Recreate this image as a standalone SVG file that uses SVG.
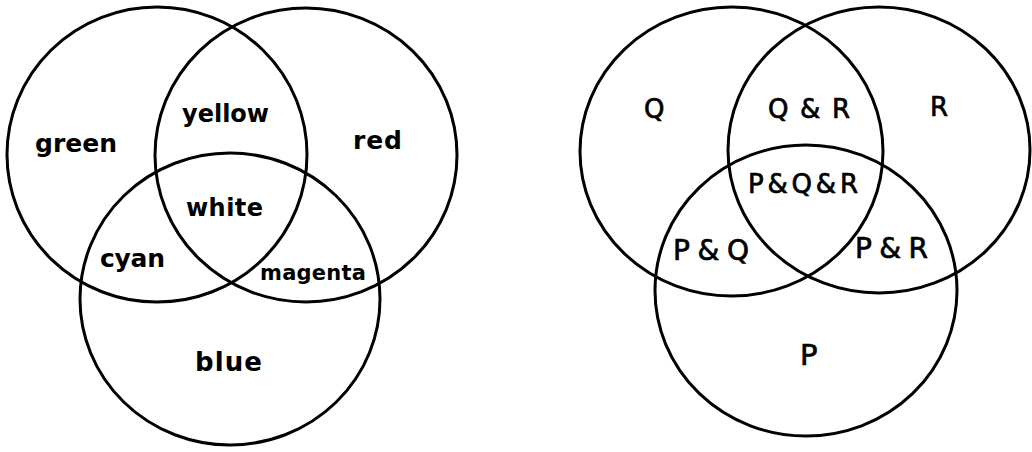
<svg xmlns="http://www.w3.org/2000/svg" width="1032" height="452" viewBox="0 0 1032 452">
<style>
.c{fill:none;stroke:#000;stroke-width:3}
.t{font-family:"DejaVu Sans","Liberation Sans",sans-serif;fill:#000}
.l{font-weight:bold}
.r{font-weight:normal;stroke:#000;stroke-width:0.7}
</style>
<rect width="1032" height="452" fill="#fff"/>
<g id="left-diagram">
<g id="green"><ellipse class="c" cx="157" cy="154.6" rx="150" ry="147.5"/><text class="t l" x="35" y="152" font-size="25" textLength="82" lengthAdjust="spacing">green</text></g>
<g id="red"><ellipse class="c" cx="306" cy="155" rx="151" ry="147"/><text class="t l" x="353" y="149" font-size="25" textLength="49" lengthAdjust="spacing">red</text></g>
<g id="blue"><ellipse class="c" cx="230" cy="299" rx="150" ry="146"/><text class="t l" x="195" y="371" font-size="26" textLength="67" lengthAdjust="spacing">blue</text></g>
<g id="yellow"><text class="t l" x="182" y="122" font-size="24" textLength="87" lengthAdjust="spacing">yellow</text></g>
<g id="white"><text class="t l" x="186" y="216" font-size="24" textLength="77" lengthAdjust="spacing">white</text></g>
<g id="cyan"><text class="t l" x="100" y="267" font-size="25" textLength="65" lengthAdjust="spacing">cyan</text></g>
<g id="magenta"><text class="t l" x="260" y="280" font-size="21" textLength="106" lengthAdjust="spacing">magenta</text></g>
</g>
<g id="right-diagram">
<g id="Q"><ellipse class="c" cx="731.5" cy="151.5" rx="151.5" ry="144.5"/><text class="t r" x="644" y="118" font-size="26" textLength="23" lengthAdjust="spacing">Q</text></g>
<g id="R"><ellipse class="c" cx="879" cy="150" rx="151" ry="143"/><text class="t r" x="930" y="116" font-size="26" textLength="20" lengthAdjust="spacing">R</text></g>
<g id="P"><ellipse class="c" cx="806" cy="290.5" rx="151" ry="145.5"/><text class="t r" x="800" y="365" font-size="29" textLength="20" lengthAdjust="spacing">P</text></g>
<g id="QR"><text class="t r" x="768" y="118" font-size="26" textLength="82" lengthAdjust="spacing">Q&amp;R</text></g>
<g id="PQR"><text class="t r" x="748" y="193" font-size="26" textLength="110" lengthAdjust="spacing">P&amp;Q&amp;R</text></g>
<g id="PQ"><text class="t r" x="673" y="260" font-size="28" textLength="76" lengthAdjust="spacing">P&amp;Q</text></g>
<g id="PR"><text class="t r" x="855" y="258" font-size="28" textLength="73" lengthAdjust="spacing">P&amp;R</text></g>
</g>
<g id="connectors"/>
</svg>
